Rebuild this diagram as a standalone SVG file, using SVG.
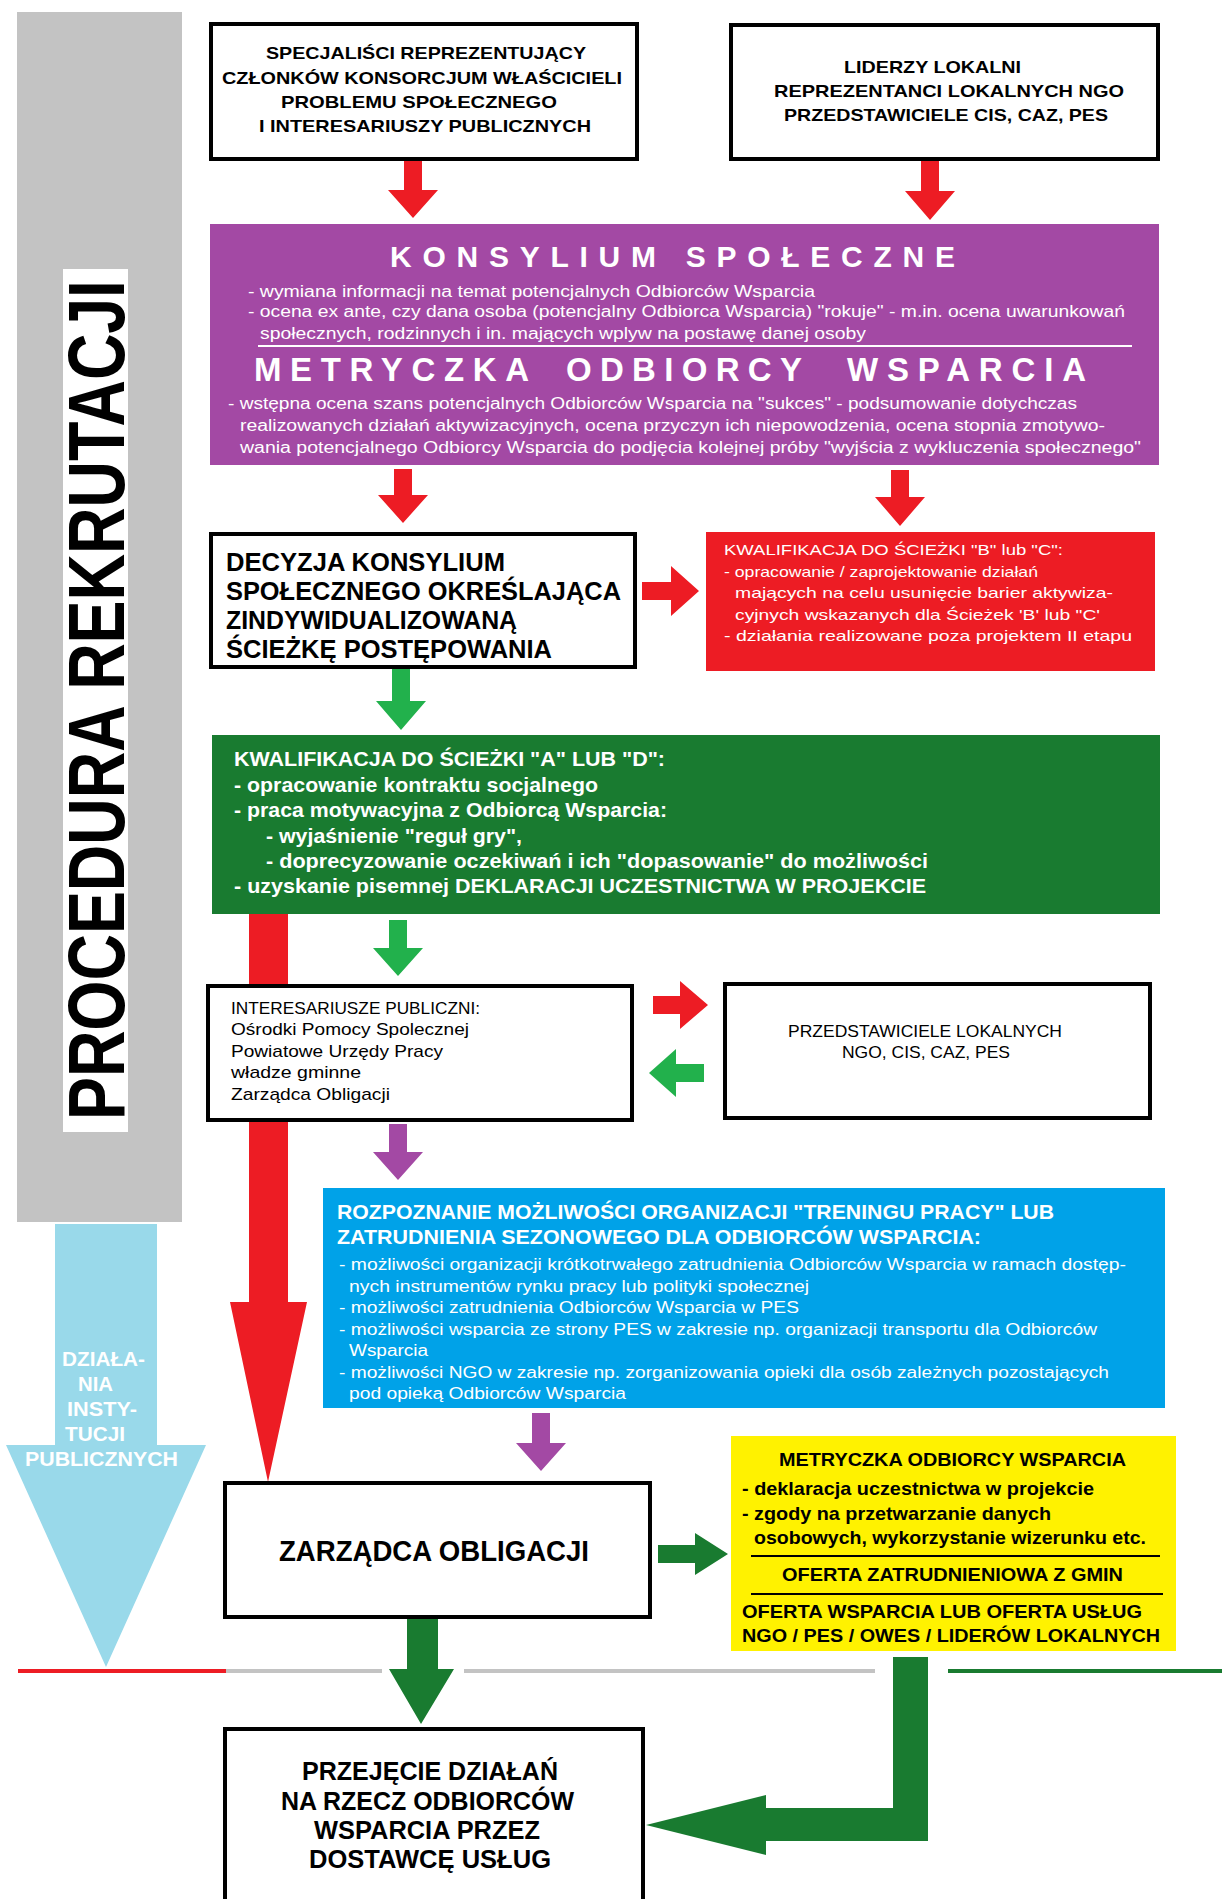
<svg xmlns="http://www.w3.org/2000/svg" width="1222" height="1899" viewBox="0 0 1222 1899">
<style>
text{font-family:"Liberation Sans",Arial,sans-serif}
.b{font-weight:bold}
.box{fill:#fff;stroke:#000;stroke-width:4}
.w{fill:#fff}
.k{fill:#000}
.red{fill:#ED1C24}
.grn{fill:#22B14C}
.dgr{fill:#197B30}
.pur{fill:#A349A4}
</style>
<rect width="1222" height="1899" fill="#fff"/>

<g id="side-band">
<rect x="17" y="12" width="165" height="1210" fill="#C3C3C3"/>
<rect x="63" y="269" width="65" height="863" fill="#fff"/>
<text class="b k" font-size="80" transform="translate(124,700) rotate(-90)" x="-420" y="0" textLength="840" lengthAdjust="spacingAndGlyphs">PROCEDURA REKRUTACJI</text>
</g>

<g id="connectors">
<polygon class="red" points="404,161 422,161 422,190 438,190 413,218 388,190 404,190"/>
<polygon class="red" points="921,161 939,161 939,191 955,191 930,220 905,191 921,191"/>
<polygon class="red" points="394,469 412,469 412,495 428,495 403,523 378,495 394,495"/>
<polygon class="red" points="891,470 909,470 909,497 925,497 900,526 875,497 891,497"/>
<polygon class="red" points="642,582 671,582 671,566 699,591 671,616 671,600 642,600"/>
<polygon class="grn" points="392,668 410,668 410,701 426,701 401,730 376,701 392,701"/>
<polygon class="grn" points="389,920 407,920 407,948 423,948 398,976 373,948 389,948"/>
<polygon class="red" points="249,914 288,914 288,1302 307,1302 268,1482 230,1302 249,1302"/>
<polygon class="red" points="653,996 680,996 680,981 708,1005 680,1029 680,1014 653,1014"/>
<polygon class="grn" points="704,1064 676,1064 676,1049 649,1073 676,1097 676,1082 704,1082"/>
<polygon class="pur" points="389,1124 407,1124 407,1152 423,1152 398,1180 373,1152 389,1152"/>
<polygon class="pur" points="532,1413 550,1413 550,1443 566,1443 541,1471 516,1443 532,1443"/>
<polygon fill="#99D9EA" points="55,1224 157,1224 157,1445 206,1445 106,1667 6,1445 55,1445"/>
<polygon class="dgr" points="658,1545 695,1545 695,1533 728,1554 695,1575 695,1563 658,1563"/>
<polygon class="dgr" points="407,1618 438,1618 438,1669 454,1669 421,1724 389,1669 407,1669"/>
<polygon class="dgr" points="893,1657 928,1657 928,1841 766,1841 766,1855 646,1825 766,1795 766,1808 893,1808"/>
<rect x="18" y="1669" width="208" height="4" fill="#ED1C24"/>
<rect x="226" y="1669" width="156" height="4" fill="#C3C3C3"/>
<rect x="464" y="1669" width="411" height="4" fill="#C3C3C3"/>
<rect x="948" y="1669" width="274" height="4" fill="#197B30"/>
</g>

<g id="n-specjalisci">
<rect class="box" x="211" y="24" width="426" height="135"/>
<text class="b k" font-size="17"><tspan x="266" y="59" textLength="320" lengthAdjust="spacingAndGlyphs">SPECJALIŚCI REPREZENTUJĄCY</tspan><tspan x="222" y="84" textLength="400" lengthAdjust="spacingAndGlyphs">CZŁONKÓW KONSORCJUM WŁAŚCICIELI</tspan><tspan x="281" y="108" textLength="276" lengthAdjust="spacingAndGlyphs">PROBLEMU SPOŁECZNEGO</tspan><tspan x="259" y="132" textLength="332" lengthAdjust="spacingAndGlyphs">I INTERESARIUSZY PUBLICZNYCH</tspan></text>
</g>

<g id="n-liderzy">
<rect class="box" x="731" y="25" width="427" height="134"/>
<text class="b k" font-size="17"><tspan x="844" y="73" textLength="177" lengthAdjust="spacingAndGlyphs">LIDERZY LOKALNI</tspan><tspan x="774" y="97" textLength="350" lengthAdjust="spacingAndGlyphs">REPREZENTANCI LOKALNYCH NGO</tspan><tspan x="784" y="121" textLength="324" lengthAdjust="spacingAndGlyphs">PRZEDSTAWICIELE CIS, CAZ, PES</tspan></text>
</g>

<g id="n-konsylium">
<rect x="210" y="224" width="949" height="241" fill="#A349A4"/>
<text class="b w" font-size="30" x="390" y="267" textLength="565" lengthAdjust="spacing">KONSYLIUM SPOŁECZNE</text>
<text class="w" font-size="16"><tspan x="248" y="297" textLength="567" lengthAdjust="spacingAndGlyphs">- wymiana informacji na temat potencjalnych Odbiorców Wsparcia</tspan><tspan x="248" y="317" textLength="877" lengthAdjust="spacingAndGlyphs">- ocena ex ante, czy dana osoba (potencjalny Odbiorca Wsparcia) "rokuje" - m.in. ocena uwarunkowań</tspan><tspan x="260" y="339" textLength="606" lengthAdjust="spacingAndGlyphs">społecznych, rodzinnych i in. mających wplyw na postawę danej osoby</tspan></text>
<line x1="258" y1="346" x2="1132" y2="346" stroke="#fff" stroke-width="2"/>
<text class="b w" font-size="33"><tspan x="254" y="381" textLength="275" lengthAdjust="spacing">METRYCZKA</tspan><tspan x="566" y="381" textLength="236" lengthAdjust="spacing">ODBIORCY</tspan><tspan x="847" y="381" textLength="239" lengthAdjust="spacing">WSPARCIA</tspan></text>
<text class="w" font-size="16"><tspan x="228" y="409" textLength="849" lengthAdjust="spacingAndGlyphs">- wstępna ocena szans potencjalnych Odbiorców Wsparcia na "sukces" - podsumowanie dotychczas</tspan><tspan x="240" y="431" textLength="865" lengthAdjust="spacingAndGlyphs">realizowanych działań aktywizacyjnych, ocena przyczyn ich niepowodzenia, ocena stopnia zmotywo-</tspan><tspan x="240" y="453" textLength="901" lengthAdjust="spacingAndGlyphs">wania potencjalnego Odbiorcy Wsparcia do podjęcia kolejnej próby "wyjścia z wykluczenia społecznego"</tspan></text>
</g>

<g id="n-decyzja">
<rect class="box" x="211" y="534" width="424" height="133"/>
<text class="b k" font-size="25"><tspan x="226" y="571" textLength="279" lengthAdjust="spacingAndGlyphs">DECYZJA KONSYLIUM</tspan><tspan x="226" y="600" textLength="395" lengthAdjust="spacingAndGlyphs">SPOŁECZNEGO OKREŚLAJĄCA</tspan><tspan x="226" y="629" textLength="291" lengthAdjust="spacingAndGlyphs">ZINDYWIDUALIZOWANĄ</tspan><tspan x="226" y="658" textLength="326" lengthAdjust="spacingAndGlyphs">ŚCIEŻKĘ POSTĘPOWANIA</tspan></text>
</g>

<g id="n-sciezka-bc">
<rect x="706" y="532" width="449" height="139" fill="#ED1C24"/>
<text class="w" font-size="15"><tspan x="724" y="555" textLength="339" lengthAdjust="spacingAndGlyphs">KWALIFIKACJA DO ŚCIEŻKI "B" lub "C":</tspan><tspan x="724" y="577" textLength="314" lengthAdjust="spacingAndGlyphs">- opracowanie / zaprojektowanie działań</tspan><tspan x="735" y="598" textLength="378" lengthAdjust="spacingAndGlyphs">mających na celu usunięcie barier aktywiza-</tspan><tspan x="735" y="620" textLength="365" lengthAdjust="spacingAndGlyphs">cyjnych wskazanych dla Ścieżek 'B' lub "C'</tspan><tspan x="724" y="641" textLength="408" lengthAdjust="spacingAndGlyphs">- działania realizowane poza projektem II etapu</tspan></text>
</g>

<g id="n-sciezka-ad">
<rect x="212" y="735" width="948" height="179" fill="#197B30"/>
<text class="b w" font-size="21"><tspan x="234" y="766" textLength="431" lengthAdjust="spacingAndGlyphs">KWALIFIKACJA DO ŚCIEŻKI "A" LUB "D":</tspan><tspan x="234" y="792" textLength="364" lengthAdjust="spacingAndGlyphs">- opracowanie kontraktu socjalnego</tspan><tspan x="234" y="817" textLength="433" lengthAdjust="spacingAndGlyphs">- praca motywacyjna z Odbiorcą Wsparcia:</tspan><tspan x="266" y="843" textLength="256" lengthAdjust="spacingAndGlyphs">- wyjaśnienie "reguł gry",</tspan><tspan x="266" y="868" textLength="662" lengthAdjust="spacingAndGlyphs">- doprecyzowanie oczekiwań i ich "dopasowanie" do możliwości</tspan><tspan x="234" y="893" textLength="692" lengthAdjust="spacingAndGlyphs">- uzyskanie pisemnej DEKLARACJI UCZESTNICTWA W PROJEKCIE</tspan></text>
</g>

<g id="n-interesariusze">
<rect class="box" x="208" y="986" width="424" height="134"/>
<text class="k" font-size="17"><tspan x="231" y="1014" textLength="249" lengthAdjust="spacingAndGlyphs">INTERESARIUSZE PUBLICZNI:</tspan><tspan x="231" y="1035" textLength="238" lengthAdjust="spacingAndGlyphs">Ośrodki Pomocy Spolecznej</tspan><tspan x="231" y="1057" textLength="212" lengthAdjust="spacingAndGlyphs">Powiatowe Urzędy Pracy</tspan><tspan x="231" y="1078" textLength="130" lengthAdjust="spacingAndGlyphs">władze gminne</tspan><tspan x="231" y="1100" textLength="159" lengthAdjust="spacingAndGlyphs">Zarządca Obligacji</tspan></text>
</g>

<g id="n-przedstawiciele">
<rect class="box" x="725" y="984" width="425" height="134"/>
<text class="k" font-size="17"><tspan x="788" y="1037" textLength="274" lengthAdjust="spacingAndGlyphs">PRZEDSTAWICIELE LOKALNYCH</tspan><tspan x="842" y="1058" textLength="168" lengthAdjust="spacingAndGlyphs">NGO, CIS, CAZ, PES</tspan></text>
</g>

<g id="n-rozpoznanie">
<rect x="323" y="1188" width="842" height="220" fill="#00A2E8"/>
<text class="b w" font-size="21"><tspan x="337" y="1219" textLength="717" lengthAdjust="spacingAndGlyphs">ROZPOZNANIE MOŻLIWOŚCI ORGANIZACJI "TRENINGU PRACY" LUB</tspan><tspan x="337" y="1244" textLength="644" lengthAdjust="spacingAndGlyphs">ZATRUDNIENIA SEZONOWEGO DLA ODBIORCÓW WSPARCIA:</tspan></text>
<text class="w" font-size="16"><tspan x="339" y="1270" textLength="787" lengthAdjust="spacingAndGlyphs">- możliwości organizacji krótkotrwałego zatrudnienia Odbiorców Wsparcia w ramach dostęp-</tspan><tspan x="349" y="1292" textLength="460" lengthAdjust="spacingAndGlyphs">nych instrumentów rynku pracy lub polityki społecznej</tspan><tspan x="339" y="1313" textLength="460" lengthAdjust="spacingAndGlyphs">- możliwości zatrudnienia Odbiorców Wsparcia w PES</tspan><tspan x="339" y="1335" textLength="758" lengthAdjust="spacingAndGlyphs">- możliwości wsparcia ze strony PES w zakresie np. organizacji transportu dla Odbiorców</tspan><tspan x="349" y="1356" textLength="79" lengthAdjust="spacingAndGlyphs">Wsparcia</tspan><tspan x="339" y="1378" textLength="770" lengthAdjust="spacingAndGlyphs">- możliwości NGO w zakresie np. zorganizowania opieki dla osób zależnych pozostających</tspan><tspan x="349" y="1399" textLength="277" lengthAdjust="spacingAndGlyphs">pod opieką Odbiorców Wsparcia</tspan></text>
</g>

<g id="n-dzialania">
<text class="b w" font-size="21"><tspan x="62" y="1366" textLength="83" lengthAdjust="spacingAndGlyphs">DZIAŁA-</tspan><tspan x="78" y="1391" textLength="35" lengthAdjust="spacingAndGlyphs">NIA</tspan><tspan x="67" y="1416" textLength="70" lengthAdjust="spacingAndGlyphs">INSTY-</tspan><tspan x="65" y="1441" textLength="60" lengthAdjust="spacingAndGlyphs">TUCJI</tspan><tspan x="25" y="1466" textLength="153" lengthAdjust="spacingAndGlyphs">PUBLICZNYCH</tspan></text>
</g>

<g id="n-zarzadca">
<rect class="box" x="225" y="1483" width="425" height="134"/>
<text class="b k" font-size="29" x="279" y="1561" textLength="310" lengthAdjust="spacingAndGlyphs">ZARZĄDCA OBLIGACJI</text>
</g>

<g id="n-metryczka">
<rect x="731" y="1436" width="445" height="215" fill="#FFF200"/>
<text class="b k" font-size="19"><tspan x="779" y="1466" textLength="347" lengthAdjust="spacingAndGlyphs">METRYCZKA ODBIORCY WSPARCIA</tspan><tspan x="742" y="1495" textLength="352" lengthAdjust="spacingAndGlyphs">- deklaracja uczestnictwa w projekcie</tspan><tspan x="742" y="1520" textLength="309" lengthAdjust="spacingAndGlyphs">- zgody na przetwarzanie danych</tspan><tspan x="754" y="1544" textLength="392" lengthAdjust="spacingAndGlyphs">osobowych, wykorzystanie wizerunku etc.</tspan><tspan x="782" y="1581" textLength="341" lengthAdjust="spacingAndGlyphs">OFERTA ZATRUDNIENIOWA Z GMIN</tspan><tspan x="742" y="1618" textLength="400" lengthAdjust="spacingAndGlyphs">OFERTA WSPARCIA LUB OFERTA USŁUG</tspan><tspan x="742" y="1642" textLength="418" lengthAdjust="spacingAndGlyphs">NGO / PES / OWES / LIDERÓW LOKALNYCH</tspan></text>
<line x1="751" y1="1556" x2="1160" y2="1556" stroke="#000" stroke-width="2"/>
<line x1="751" y1="1594" x2="1163" y2="1594" stroke="#000" stroke-width="2"/>
</g>

<g id="n-przejecie">
<rect class="box" x="225" y="1729" width="418" height="200"/>
<text class="b k" font-size="25"><tspan x="302" y="1780" textLength="256" lengthAdjust="spacingAndGlyphs">PRZEJĘCIE DZIAŁAŃ</tspan><tspan x="281" y="1810" textLength="293" lengthAdjust="spacingAndGlyphs">NA RZECZ ODBIORCÓW</tspan><tspan x="314" y="1839" textLength="226" lengthAdjust="spacingAndGlyphs">WSPARCIA PRZEZ</tspan><tspan x="309" y="1868" textLength="242" lengthAdjust="spacingAndGlyphs">DOSTAWCĘ USŁUG</tspan></text>
</g>
</svg>
